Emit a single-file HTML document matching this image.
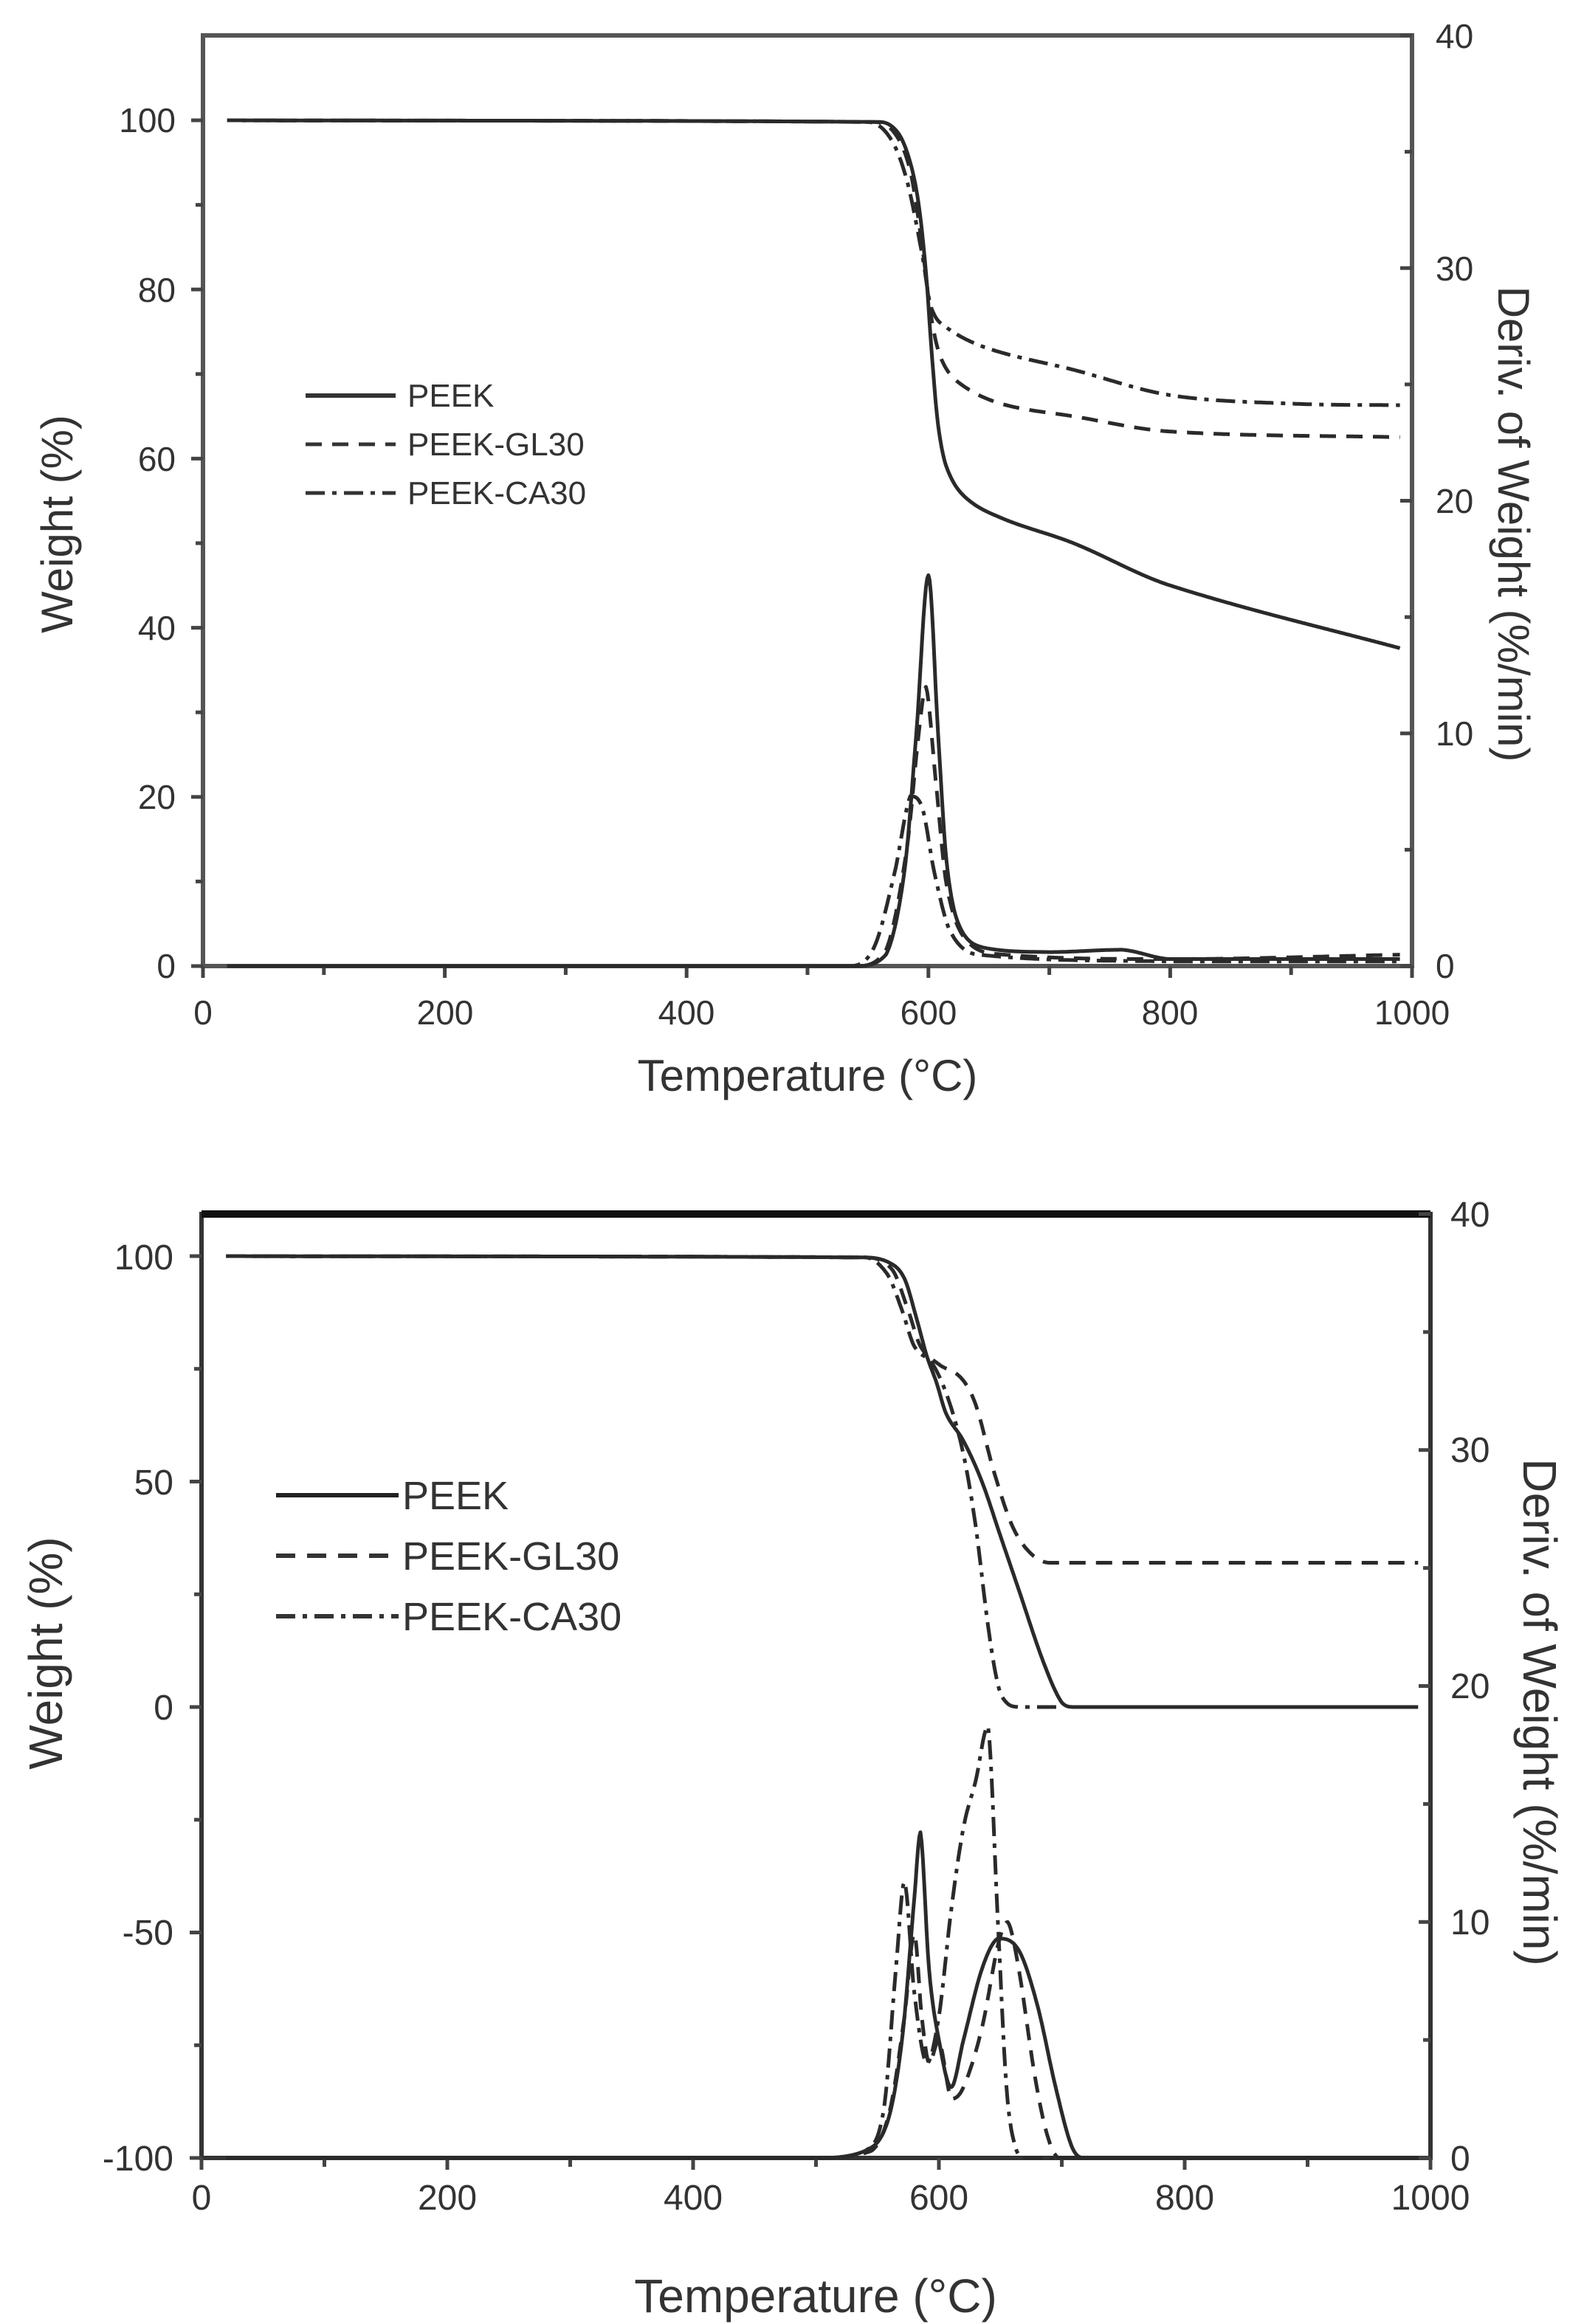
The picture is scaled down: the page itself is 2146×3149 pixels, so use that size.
<!DOCTYPE html>
<html><head><meta charset="utf-8">
<style>
html,body{margin:0;padding:0;background:#fff;}
svg{display:block;}
text{font-family:"Liberation Sans",sans-serif;fill:#333;}
</style></head>
<body>
<svg id="s" width="2146" height="3149" viewBox="0 0 2146 3149" xmlns="http://www.w3.org/2000/svg">
<g id="g"></g>
<g font-size="46" text-anchor="middle">
<text x="275" y="1388">0</text><text x="603" y="1388">200</text><text x="930" y="1388">400</text>
<text x="1258" y="1388">600</text><text x="1585" y="1388">800</text><text x="1913" y="1388">1000</text>
</g>
<g font-size="46" text-anchor="end">
<text x="238" y="1325">0</text><text x="238" y="1096">20</text><text x="238" y="867">40</text>
<text x="238" y="638">60</text><text x="238" y="409">80</text><text x="238" y="179">100</text>
</g>
<g font-size="46" text-anchor="start">
<text x="1945" y="1325">0</text><text x="1945" y="1010">10</text><text x="1945" y="695">20</text>
<text x="1945" y="380">30</text><text x="1945" y="65">40</text>
</g>
<text x="1094" y="1478" font-size="60" text-anchor="middle">Temperature (°C)</text>
<text transform="translate(98,710) rotate(-90)" font-size="60" text-anchor="middle">Weight (%)</text>
<text transform="translate(2030,710) rotate(90)" font-size="60" text-anchor="middle">Deriv. of Weight (%/min)</text>
<g font-size="44"><text x="552" y="551">PEEK</text><text x="552" y="617">PEEK-GL30</text><text x="552" y="683">PEEK-CA30</text></g>
<g font-size="48" text-anchor="middle">
<text x="273" y="2994">0</text><text x="606" y="2994">200</text><text x="939" y="2994">400</text>
<text x="1272" y="2994">600</text><text x="1605" y="2994">800</text><text x="1938" y="2994">1000</text>
</g>
<g font-size="48" text-anchor="end">
<text x="235" y="2941">-100</text><text x="235" y="2635">-50</text><text x="235" y="2330">0</text>
<text x="235" y="2025">50</text><text x="235" y="1720">100</text>
</g>
<g font-size="48" text-anchor="start">
<text x="1965" y="2941">0</text><text x="1965" y="2621">10</text><text x="1965" y="2301">20</text>
<text x="1965" y="1981">30</text><text x="1965" y="1662">40</text>
</g>
<text x="1105" y="3133" font-size="64" text-anchor="middle">Temperature (°C)</text>
<text transform="translate(84,2240) rotate(-90)" font-size="64" text-anchor="middle">Weight (%)</text>
<text transform="translate(2064,2320) rotate(90)" font-size="64" text-anchor="middle">Deriv. of Weight (%/min)</text>
<g font-size="54"><text x="545" y="2045">PEEK</text><text x="545" y="2127">PEEK-GL30</text><text x="545" y="2209">PEEK-CA30</text></g>
</svg>
<script>
var g=document.getElementById('g'),NS="http://www.w3.org/2000/svg";
function el(t,a){var e=document.createElementNS(NS,t);for(var k in a)e.setAttribute(k,a[k]);g.appendChild(e);return e;}
function line(x1,y1,x2,y2,w,c){el('line',{x1:x1,y1:y1,x2:x2,y2:y2,stroke:c||'#444','stroke-width':w||5});}
function interp(p,x){var n=p.length;if(x<=p[0][0])return p[0][1];if(x>=p[n-1][0])return p[n-1][1];
 for(var i=1;i<n;i++){if(x<=p[i][0]){var a=p[i-1],b=p[i];var h=b[0]-a[0],t=(x-a[0])/h;
  var pa=i>1?p[i-2]:a,pb=i<n-1?p[i+1]:b;
  var ma=(b[1]-pa[1])/(b[0]-pa[0])*h, mb=(pb[1]-a[1])/(pb[0]-a[0])*h;
  var d=b[1]-a[1];
  if(d===0){ma=0;mb=0;}else{ if(ma*d<0)ma=0; if(mb*d<0)mb=0; var r=3*d; if(Math.abs(ma)>Math.abs(r))ma=r; if(Math.abs(mb)>Math.abs(r))mb=r;}
  var t2=t*t,t3=t2*t;return (2*t3-3*t2+1)*a[1]+(t3-2*t2+t)*ma+(-2*t3+3*t2)*b[1]+(t3-t2)*mb;}}}
function series(pts,X,Y,dash,x0,x1){var d='';for(var x=x0;x<=x1;x+=1){var v=interp(pts,x);d+=(d?'L':'M')+X(x).toFixed(1)+','+Y(v).toFixed(1);}
 var a={d:d,fill:'none',stroke:'#2a2a2a','stroke-width':5,'stroke-linejoin':'round'};if(dash)a['stroke-dasharray']=dash;el('path',a);}
var DASH='22,14',DD='26,10,6,10';
(function(){
var L=275,R=1913,T=48,B=1309;
var X=function(t){return L+(R-L)*t/1000},Y=function(v){return B-(B-163)*v/100},Y2=function(v){return B-(B-T)*v/40};
el('rect',{x:L,y:T,width:R-L,height:B-T,fill:'none',stroke:'#555','stroke-width':6});
for(var t=0;t<=1000;t+=100){line(X(t),B,X(t),B+(t%200?12:16),5);}
for(var v=0;v<=100;v+=10){line(L-(v%20?10:16),Y(v),L,Y(v),5);}
for(var v=0;v<=40;v+=5){line(R-(v%10?10:16),Y2(v),R,Y2(v),5);}
series([[20,100],[560,99.8],[575,98.5],[585,95],[592,90],[598,82],[603,72],[608,64],[615,59],[630,55.5],[660,53],[720,50],[800,45],[1000,37.2]],X,Y,null,20,990);
series([[20,100],[555,99.8],[572,98.5],[585,94],[595,85],[602,77],[610,72],[625,69],[660,66.5],[720,65],[800,63.2],[1000,62.5]],X,Y,DASH,20,990);
series([[20,100],[550,99.8],[568,98],[582,93],[595,84],[602,78],[615,75.5],[650,73],[720,70.5],[800,67.5],[900,66.5],[1000,66.3]],X,Y,DD,20,990);
series([[20,0],[540,0],[565,0.5],[580,4],[590,10],[600,16.8],[608,10],[615,4.5],[625,1.8],[645,0.8],[700,0.6],[760,0.7],[800,0.3],[1000,0.3]],X,Y2,null,20,990);
series([[20,0],[540,0],[565,0.7],[582,5],[592,10],[598,12],[606,8],[615,3.5],[630,1.2],[660,0.5],[800,0.3],[1000,0.5]],X,Y2,DASH,20,990);
series([[20,0],[535,0],[555,0.8],[572,4],[585,7.3],[595,6.8],[605,4],[618,1.5],[640,0.5],[800,0.2],[1000,0.2]],X,Y2,DD,20,990);
line(414,536,536,536,6,'#333');
el('path',{d:'M414,602H536',stroke:'#333','stroke-width':5,'stroke-dasharray':DASH});
el('path',{d:'M414,668H536',stroke:'#333','stroke-width':5,'stroke-dasharray':DD});
})();
(function(){
var L=273,R=1938,T=1645,B=2924;
var X=function(t){return L+(R-L)*t/1000},Y=function(v){return 2313-(2924-2313)*v/100},Y2=function(v){return B-(B-T)*v/40};
el('rect',{x:L,y:T,width:R-L,height:B-T,fill:'none',stroke:'#333','stroke-width':6});
line(L,T,R,T,10,'#111');
for(var t=0;t<=1000;t+=100){line(X(t),B,X(t),B+(t%200?12:16),5);}
for(var v=-100;v<=100;v+=25){line(L-(v%50?10:16),Y(v),L,Y(v),5);}
for(var v=0;v<=40;v+=5){line(R-(v%10?10:16),Y2(v),R,Y2(v),5);}
series([[20,100],[540,99.7],[560,98.5],[572,95],[582,86],[590,78],[598,72],[606,65],[620,59],[635,50],[650,38],[665,26],[685,10],[700,1],[710,0],[1000,0]],X,Y,null,20,990);
series([[20,100],[540,99.7],[562,97],[575,88],[585,80],[600,76],[618,73],[630,67],[645,52],[660,40],[675,34],[690,32],[1000,32]],X,Y,DASH,20,990);
series([[20,100],[540,99.7],[558,96],[570,88],[580,80],[595,76],[608,68],[620,56],[630,40],[640,18],[648,5],[655,1],[665,0],[690,0]],X,Y,DD,20,700);
series([[20,0],[500,0],[540,0.3],[558,1.5],[570,5],[580,11],[585,13.8],[592,8],[600,5],[610,3],[620,5],[635,8],[648,9.3],[665,8.8],[680,6.5],[695,3],[708,0.5],[718,0],[1000,0]],X,Y2,null,20,990);
series([[20,0],[500,0],[545,0.3],[560,2],[572,6],[580,9.5],[586,6],[592,4],[600,5],[610,2.5],[620,3],[635,5.5],[648,9],[656,10],[665,8],[678,3.5],[688,1],[698,0],[1000,0]],X,Y2,DASH,20,990);
series([[20,0],[500,0],[540,0.3],[555,2],[565,8],[572,11.7],[580,7],[590,4],[600,6],[610,10.5],[620,14],[630,16],[640,18.3],[648,10],[655,3],[662,0.5],[670,0],[1000,0]],X,Y2,DD,20,990);
line(374,2026,540,2026,6,'#222');
el('path',{d:'M374,2108H540',stroke:'#333','stroke-width':6,'stroke-dasharray':'26,16'});
el('path',{d:'M374,2190H540',stroke:'#333','stroke-width':6,'stroke-dasharray':DD});
})();
</script>
</body></html>
